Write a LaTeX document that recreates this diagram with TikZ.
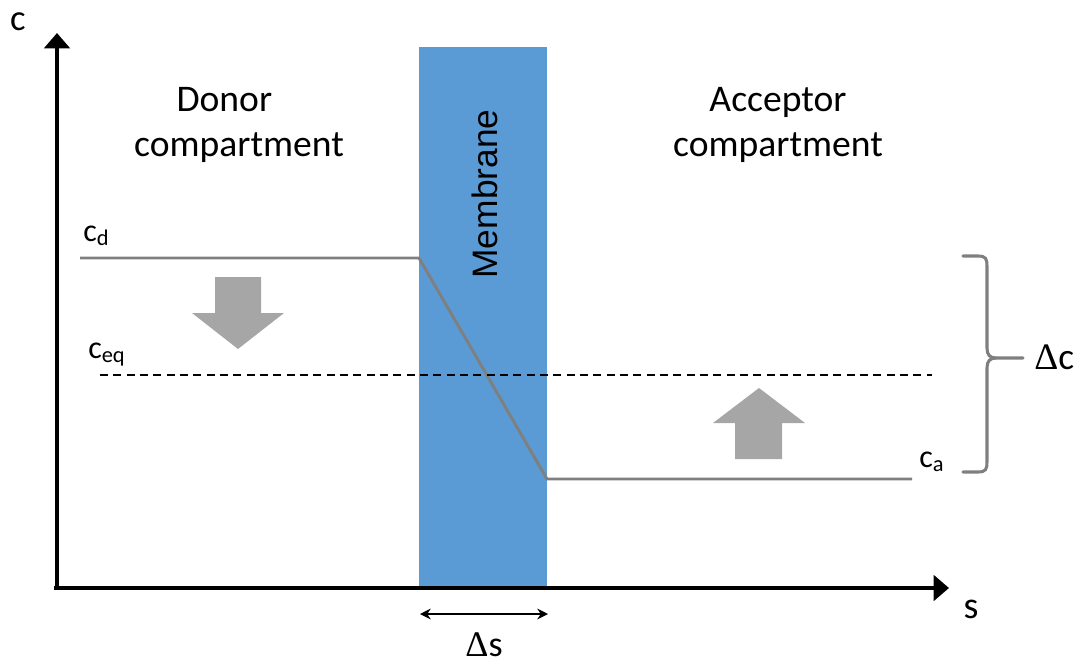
\documentclass[tikz,border=0pt]{standalone}
\usepackage{fontspec}
\setmainfont{Carlito}
\newfontfamily\arialf{Liberation Sans}
\newfontfamily\symf{Liberation Serif}
\usetikzlibrary{arrows.meta}
\definecolor{membr}{HTML}{5B9BD5}
\definecolor{lgray}{HTML}{7F7F7F}
\definecolor{agray}{HTML}{A6A6A6}
\tikzset{
  axis/.style={line width=3.4pt,-{Triangle[length=11.5pt,width=19pt]}},
  conc/.style={draw=lgray,line width=2.2pt},
  lbl/.style={font=\fontsize{28.2}{33.75}\selectfont,align=center,inner sep=0pt},
  clbl/.style={font=\fontsize{24}{28}\selectfont,inner sep=0pt,anchor=base west},
  bigarrow/.style={fill=agray,draw=none},
}
\begin{document}
\begin{tikzpicture}[x=0.75pt,y=-0.75pt]
\useasboundingbox (0,0) rectangle (1083,665);
% membrane
\node[fill=membr,draw=none,minimum width=96pt,minimum height=405.75pt,inner sep=0pt,anchor=north west] (mem) at (419,47) {};
\node[rotate=90,font=\arialf\fontsize{26.5}{30}\selectfont,inner sep=0pt] (memtxt) at (485,194) {Membrane};
% concentration profile
\coordinate (d0) at (80,258);
\coordinate (d1) at (419,258);
\coordinate (a0) at (547,479);
\coordinate (a1) at (912,479);
\draw[conc,line join=round] (d0) -- (d1) -- (a0) -- (a1);
% equilibrium dashed
\coordinate (e0) at (100,375);
\coordinate (e1) at (932,375);
\draw[line width=1.3pt,dash pattern=on 6pt off 4pt] (e0) -- (e1);
% axes
\coordinate (o) at (57,588);
\coordinate (ytip) at (57,33);
\coordinate (xtip) at (949,588);
\draw[axis] (o) -- (ytip);
\draw[axis] ([xshift=-2.3pt]o) -- (xtip);
\node[font=\fontsize{27.5}{30}\selectfont,inner sep=0pt] (clab) at (18,22) {c};
\node[font=\fontsize{28.5}{30}\selectfont,inner sep=0pt] (slab) at (971,609) {s};
% compartment labels
\node[lbl] (donor) at (239,125) {Donor\hspace*{22pt}\\compartment};
\node[lbl] (acc) at (778,125) {Acceptor\\compartment};
% c labels
\node[clbl] (cd) at (83,241) {c\textsubscript{d}};
\node[clbl] (ceq) at (88,358) {c\textsubscript{eq}};
\node[clbl] (ca) at (919,467) {c\textsubscript{a}};
% big arrows
\fill[bigarrow] (215,277) -- (261,277) -- (261,313) -- (284,313) -- (238,349) -- (192,313) -- (215,313) -- cycle;
\fill[bigarrow] (735,459) -- (782,459) -- (782,423) -- (805,423) -- (759,388) -- (713,423) -- (735,423) -- cycle;
% brace
\coordinate (bt) at (963,256);
\coordinate (bb) at (963,472);
\coordinate (bm) at (1023,358);
\draw[draw=lgray,line width=2.3pt,line cap=round]
  (bt) -- (978,256) .. controls (986,256) and (987,259) .. (987,266)
  -- (987,348) .. controls (987,355) and (990,358) .. (996,358) -- (bm);
\draw[draw=lgray,line width=2.3pt,line cap=round]
  (996,358) .. controls (990,358) and (987,361) .. (987,368)
  -- (987,462) .. controls (987,469) and (986,472) .. (978,472) -- (bb);
\node[font=\fontsize{28}{30}\selectfont,inner sep=0pt,anchor=west] (dc) at (1034,357) {{\symf\char"0394}c};
% delta s
\coordinate (s0) at (420,614);
\coordinate (s1) at (548,614);
\draw[line width=1.3pt,{Stealth[length=8pt,width=8pt]}-{Stealth[length=8pt,width=8pt]}] (s0) -- (s1);
\node[font=\fontsize{27}{30}\selectfont,inner sep=0pt] (ds) at (484,645) {{\symf\char"0394}s};
\end{tikzpicture}
\end{document}
